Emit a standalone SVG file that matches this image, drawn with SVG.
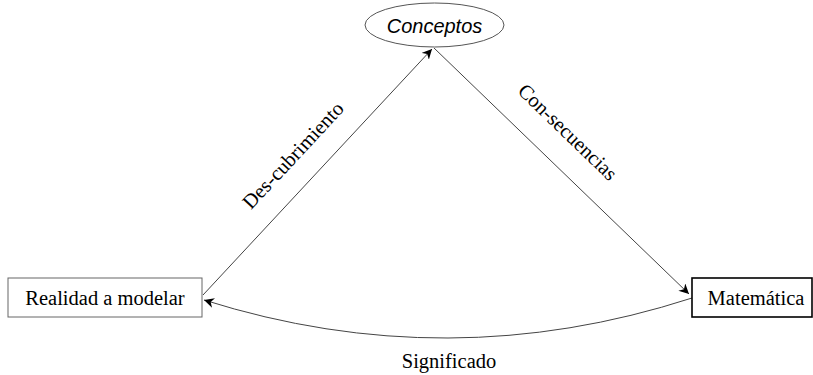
<svg xmlns="http://www.w3.org/2000/svg" width="813" height="375" viewBox="0 0 813 375">
<defs>
<style>
.lbl{font-family:"Liberation Serif","Times New Roman",serif;font-size:20.5px;fill:#000}
.edge{fill:none;stroke:#444;stroke-width:1}
</style>
<marker id="arr" viewBox="0 0 10 10" refX="10" refY="5" markerWidth="10" markerHeight="10" markerUnits="userSpaceOnUse" orient="auto">
<path d="M0,0 L10,5 L0,10 L3,5 Z" fill="#000"/>
</marker>
</defs>
<rect width="813" height="375" fill="#fff"/>
<g id="connectors">
<line class="edge" x1="203" y1="295" x2="432" y2="49" marker-end="url(#arr)"/>
<line class="edge" x1="434" y1="48" x2="689" y2="294" marker-end="url(#arr)"/>
<path class="edge" d="M692,298 Q448,377 204,300" marker-end="url(#arr)"/>
<text class="lbl" transform="translate(298,160) rotate(-47)" text-anchor="middle">Des-cubrimiento</text>
<text class="lbl" transform="translate(563,137) rotate(44)" text-anchor="middle">Con-secuencias</text>
<text class="lbl" x="449" y="368" text-anchor="middle">Significado</text>
</g>
<g id="conceptos">
<ellipse cx="434.5" cy="25" rx="69.5" ry="22" fill="#fff" stroke="#555" stroke-width="1"/>
<text x="434.5" y="33" text-anchor="middle" font-family="'Liberation Sans',Arial,sans-serif" font-style="italic" font-size="20" fill="#000">Conceptos</text>
</g>
<g id="realidad">
<rect x="8" y="278" width="194" height="39" fill="#fff" stroke="#666" stroke-width="1"/>
<text class="lbl" x="105" y="305" text-anchor="middle">Realidad a modelar</text>
</g>
<g id="matematica">
<rect x="692" y="278" width="120" height="39" fill="#fff" stroke="#000" stroke-width="1.6"/>
<text class="lbl" x="756" y="305" text-anchor="middle">Matemática</text>
</g>
</svg>
